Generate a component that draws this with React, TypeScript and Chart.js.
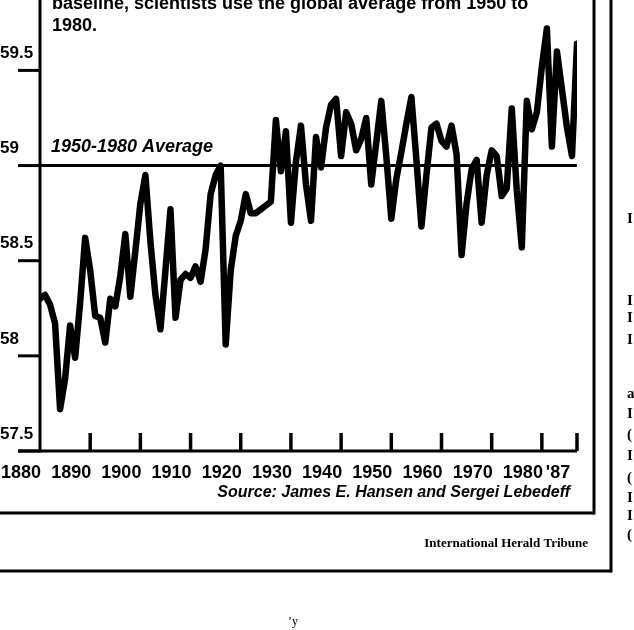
import { useEffect, useRef } from 'react';
import { Chart, registerables } from 'chart.js';

Chart.register(...registerables);

// ---- data ----
const firstYear = 1880;
const temperatures = [
  58.30, 58.32, 58.27, 58.17, 57.72, 57.88, 58.16, 57.99, 58.28, 58.62,
  58.45, 58.21, 58.20, 58.07, 58.30, 58.26, 58.42, 58.64, 58.31, 58.55,
  58.80, 58.95, 58.60, 58.32, 58.14, 58.45, 58.77, 58.20, 58.40, 58.43,
  58.41, 58.47, 58.39, 58.56, 58.85, 58.95, 59.00, 58.06, 58.45, 58.63,
  58.71, 58.85, 58.75, 58.75, 58.77, 58.79, 58.81, 59.24, 58.97, 59.18,
  58.70, 59.02, 59.21, 58.90, 58.71, 59.15, 58.99, 59.20, 59.32, 59.35,
  59.05, 59.28, 59.22, 59.08, 59.14, 59.25, 58.90, 59.12, 59.34, 59.05,
  58.72, 58.93, 59.07, 59.22, 59.36, 59.03, 58.68, 58.95, 59.20, 59.22,
  59.13, 59.10, 59.21, 59.06, 58.53, 58.80, 58.98, 59.03, 58.70, 58.95,
  59.08, 59.05, 58.84, 58.88, 59.30, 58.87, 58.57, 59.34, 59.19, 59.28,
  59.52, 59.72, 59.10, 59.60, 59.40, 59.20, 59.05, 59.64,
];
const years = temperatures.map((_, i) => firstYear + i);
const averageValue = 59.0;
const averageLabel = '1950-1980 Average';

const xTickYears = [1880, 1890, 1900, 1910, 1920, 1930, 1940, 1950, 1960, 1970, 1980, 1987];
const xTickLabels = ['1880', '1890', '1900', '1910', '1920', '1930', '1940', '1950', '1960', '1970', '1980', "'87"];
const yTicks = [57.5, 58, 58.5, 59, 59.5];
const yTickLabels = ['57.5', '58', '58.5', '59', '59.5'];

const headerLines = ['baseline, scientists use the global average from 1950 to', '1980.'];
const sourceText = 'Source: James E. Hansen and Sergei Lebedeff';
const creditText = 'International Herald Tribune';
const edgeFragments = ['I', 'I', 'I', 'I', 'a', 'I', '(', 'I', '(', 'I', 'I', '('];

const SANS = '"Liberation Sans", Arial, Helvetica, sans-serif';
const SERIF = '"Liberation Serif", "Times New Roman", serif';

const noPadding = (s: any) => {
  s.paddingTop = 0;
  s.paddingBottom = 0;
  s.paddingLeft = 0;
  s.paddingRight = 0;
};

const decorPlugin = {
  id: 'decor',
  afterDraw(chart: any) {
    const { ctx, chartArea, scales } = chart;
    const xs = scales.x;
    const ys = scales.y;
    const left = chartArea.left;
    const bottom = chartArea.bottom;
    const line = (x1: number, y1: number, x2: number, y2: number, w: number) => {
      ctx.lineWidth = w;
      ctx.beginPath();
      ctx.moveTo(x1, y1);
      ctx.lineTo(x2, y2);
      ctx.stroke();
    };
    ctx.save();
    ctx.strokeStyle = '#000';
    ctx.fillStyle = '#000';
    ctx.lineCap = 'butt';

    // y axis + outward ticks
    line(left, 0, left, bottom + 1.5, 3);
    ys.ticks.forEach((t: any) => {
      const py = ys.getPixelForValue(t.value);
      line(left - 22, py, left, py, 3);
    });
    // x axis + inward ticks
    line(left - 22, bottom, xs.right, bottom, 3);
    xs.ticks.forEach((t: any) => {
      if (t.value <= xs.min) return;
      const px = xs.getPixelForValue(t.value);
      line(px, bottom, px, bottom - 18, 3.5);
    });

    // average label
    ctx.font = `italic bold 18px ${SANS}`;
    ctx.textAlign = 'left';
    ctx.textBaseline = 'alphabetic';
    ctx.fillText(averageLabel, left + 11, ys.getPixelForValue(averageValue) - 14);

    // header text (cut at top)
    ctx.font = `bold 18px ${SANS}`;
    ctx.fillText(headerLines[0], left + 12, 9);
    ctx.fillText(headerLines[1], left + 12, 31);

    // source
    ctx.font = `italic bold 16px ${SANS}`;
    ctx.textAlign = 'right';
    ctx.fillText(sourceText, 570, 497);

    // frames
    line(594, 0, 594, 514.5, 3);
    line(0, 513, 594, 513, 3);
    line(611, 0, 611, 572.5, 3);
    line(0, 571, 611, 571, 3);

    // credit
    ctx.font = `bold 13px ${SERIF}`;
    ctx.textAlign = 'right';
    ctx.fillText(creditText, 588, 547);

    // next-column fragments at right edge
    ctx.font = `bold 15px ${SERIF}`;
    ctx.textAlign = 'left';
    const fragY = [223, 305, 322, 344, 398, 418, 439, 460, 482, 502, 520, 539];
    edgeFragments.forEach((c, i) => ctx.fillText(c, 627, fragY[i]));

    // stray mark
    ctx.font = `12px ${SERIF}`;
    ctx.fillText('\u2019y', 288, 625);
    ctx.restore();
  },
};

export default function App() {
  const ref = useRef<HTMLCanvasElement | null>(null);
  useEffect(() => {
    if (!ref.current) return;
    const chart = new Chart(ref.current, {
      type: 'line',
      data: {
        datasets: [
          {
            data: years.map((yr, i) => ({ x: yr, y: temperatures[i] })),
            borderColor: '#000',
            borderWidth: 6.5,
            pointRadius: 0,
            borderJoinStyle: 'round',
            borderCapStyle: 'round',
            tension: 0,
          },
          {
            data: [
              { x: years[0], y: averageValue },
              { x: years[years.length - 1], y: averageValue },
            ],
            borderColor: '#000',
            borderWidth: 3,
            pointRadius: 0,
          },
        ],
      },
      options: {
        responsive: false,
        animation: false,
        events: [],
        layout: { padding: { left: 0, right: 57, top: 0, bottom: 0 } },
        plugins: { legend: { display: false }, tooltip: { enabled: false } },
        scales: {
          x: {
            type: 'linear',
            min: years[0],
            max: years[years.length - 1],
            grid: { display: false },
            border: { display: false },
            afterBuildTicks: (s: any) => {
              s.ticks = xTickYears.map((v) => ({ value: v }));
            },
            afterFit: (s: any) => {
              s.height = 179;
              noPadding(s);
            },
            ticks: {
              autoSkip: false,
              maxRotation: 0,
              minRotation: 0,
              labelOffset: -19,
              padding: 3,
              color: '#000',
              font: { family: SANS, size: 18, weight: 'bold' },
              callback: (v: any) => {
                const i = xTickYears.indexOf(Number(v));
                return i >= 0 ? xTickLabels[i] : '';
              },
            },
          },
          y: {
            type: 'linear',
            min: 57.5,
            max: 59.87,
            grid: { display: false },
            border: { display: false },
            afterBuildTicks: (s: any) => {
              s.ticks = yTicks.map((v) => ({ value: v }));
            },
            afterFit: (s: any) => {
              s.width = 40;
              noPadding(s);
            },
            ticks: {
              crossAlign: 'far',
              labelOffset: -17,
              color: '#000',
              font: { family: SANS, size: 17, weight: 'bold' },
              callback: (v: any) => {
                const i = yTicks.indexOf(Number(v));
                return i >= 0 ? yTickLabels[i] : '';
              },
            },
          },
        },
      } as any,
      plugins: [decorPlugin],
    });
    return () => chart.destroy();
  }, []);
  return (
    <div style={{ position: 'absolute', left: 0, top: 0, width: 634, height: 630, background: '#fff' }}>
      <canvas ref={ref} width={634} height={630} style={{ display: 'block', width: 634, height: 630 }} />
    </div>
  );
}
